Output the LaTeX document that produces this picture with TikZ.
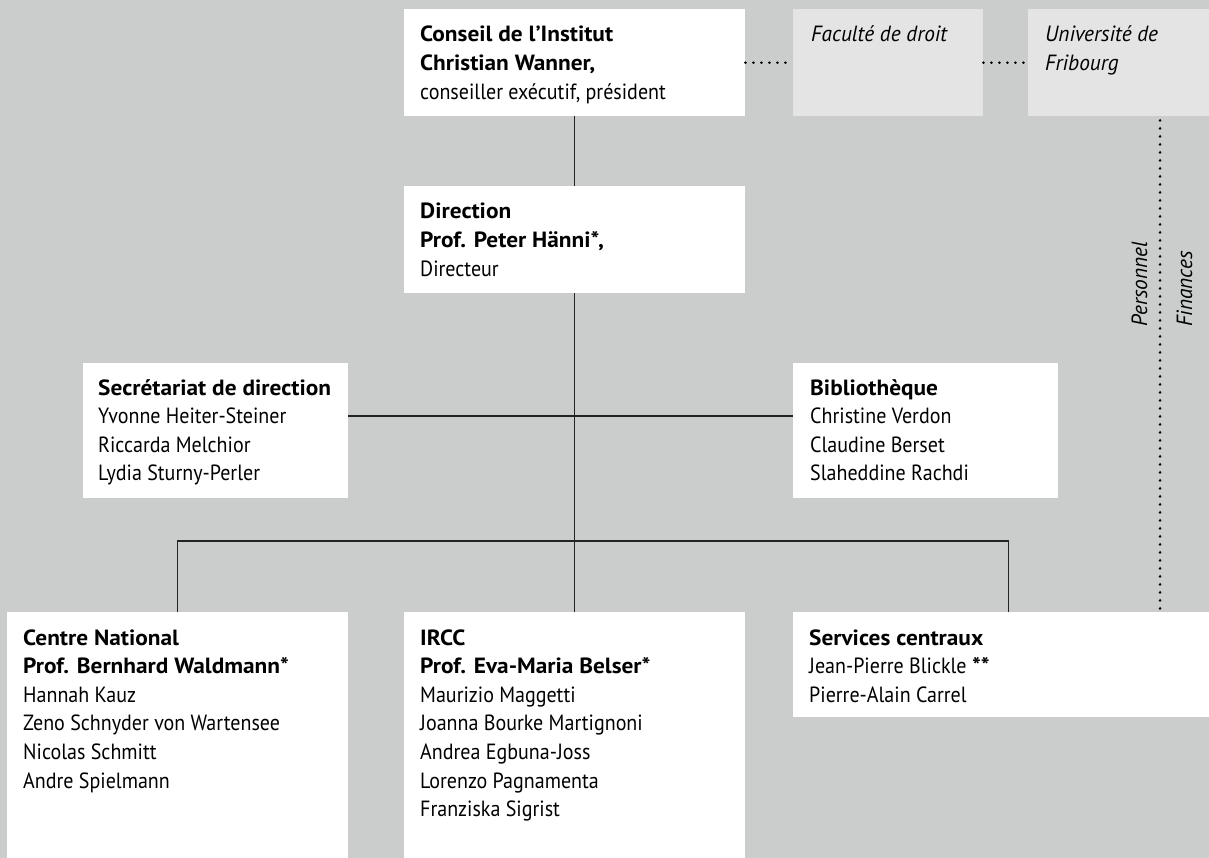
\documentclass[tikz,border=0pt]{standalone}
\usepackage{fontspec}
\setmainfont{PT Sans}[FakeStretch=0.91,
  BoldFeatures={FakeStretch=1.06},
  ItalicFeatures={FakeStretch=0.97}]
\usetikzlibrary{positioning}

\definecolor{bggray}{RGB}{203,205,204}
\definecolor{unigray}{RGB}{227,228,227}
\definecolor{linegray}{RGB}{35,35,35}
\newcommand{\orgfont}{\fontsize{22}{28.6}\selectfont}
\newcommand{\orglines}[1]{\begin{tabular}[t]{@{}l@{}}#1\end{tabular}}

\tikzset{
  orgbox/.style={fill=white, anchor=north west, inner sep=0pt},
  unibox/.style={fill=unigray, anchor=north west, inner sep=0pt},
  orgtext/.style={anchor=base west, inner sep=0pt, font=\orgfont},
  orgline/.style={draw=linegray, line width=1.3pt},
  dotline/.style={draw=black, line width=2.8pt, line cap=round, dash pattern=on 0pt off 8pt},
}

\begin{document}
\begin{tikzpicture}[x=1pt,y=-1pt]
  \fill[bggray] (0,0) rectangle (1209,858);
  \useasboundingbox (0,0) rectangle (1209,858);

  % boxes
  \node[orgbox, minimum width=341, minimum height=107] (conseil) at (404,9) {};
  \node[unibox, minimum width=190, minimum height=107] (faculte) at (793,9) {};
  \node[unibox, minimum width=190, minimum height=107] (univ) at (1028,9) {};
  \node[orgbox, minimum width=341, minimum height=107] (direction) at (404,186) {};
  \node[orgbox, minimum width=265, minimum height=135] (secretariat) at (83,363) {};
  \node[orgbox, minimum width=265, minimum height=135] (biblio) at (793,363) {};
  \node[orgbox, minimum width=341, minimum height=260] (centre) at (7,612) {};
  \node[orgbox, minimum width=341, minimum height=260] (ircc) at (404,612) {};
  \node[orgbox, minimum width=430, minimum height=105] (services) at (793,612) {};

  % texts
  \node[orgtext] (conseil-t) at (420,42)
    {\orglines{\textbf{Conseil de l’Institut}\\\textbf{Christian Wanner,}\\conseiller exécutif, président}};
  \node[orgtext] (faculte-t) at (811,42) {\itshape Faculté de droit};
  \node[orgtext] (univ-t) at (1045,42) {\itshape\orglines{Université de\\Fribourg}};
  \node[orgtext] (direction-t) at (420,219)
    {\orglines{\textbf{Direction}\\\textbf{Prof. Peter Hänni*,}\\Directeur}};
  \node[orgtext] (secretariat-t) at (98,395)
    {\orglines{\textbf{Secrétariat de direction}\\Yvonne Heiter-Steiner\\Riccarda Melchior\\Lydia Sturny-Perler}};
  \node[orgtext] (biblio-t) at (810,395)
    {\orglines{\textbf{Bibliothèque}\\Christine Verdon\\Claudine Berset\\Slaheddine Rachdi}};
  \node[orgtext] (centre-t) at (23,645)
    {\orglines{\textbf{Centre National}\\\textbf{Prof. Bernhard Waldmann*}\\Hannah Kauz\\Zeno Schnyder von Wartensee\\Nicolas Schmitt\\Andre Spielmann}};
  \node[orgtext] (ircc-t) at (420,645)
    {\orglines{\textbf{IRCC}\\\textbf{Prof. Eva-Maria Belser*}\\Maurizio Maggetti\\Joanna Bourke Martignoni\\Andrea Egbuna-Joss\\Lorenzo Pagnamenta\\Franziska Sigrist}};
  \node[orgtext] (services-t) at (809,645)
    {\orglines{\textbf{Services centraux}\\Jean-Pierre Blickle \textbf{**}\\Pierre-Alain Carrel}};
  \node[orgtext, rotate=90] (personnel) at (1147,327) {\itshape Personnel};
  \node[orgtext, rotate=90] (finances) at (1192,327) {\itshape Finances};

  % connectors
  \coordinate (staff) at (574.5,416);
  \coordinate (branch) at (574.5,541);
  \coordinate (hrline) at (1160,0);
  \draw[orgline] (conseil.south) -- (direction.north);
  \draw[orgline] (direction.south) -- (ircc.north);
  \draw[orgline] (secretariat.east |- staff) -- (biblio.west |- staff);
  \draw[orgline] (centre.north) |- (branch) -| (services.north);
  \draw[dotline] (conseil.east) -- (faculte.west);
  \draw[dotline] (faculte.east) -- (univ.west);
  \draw[dotline] ([yshift=-4pt]univ.south -| hrline) -- (services.north -| hrline);
\end{tikzpicture}
\end{document}
